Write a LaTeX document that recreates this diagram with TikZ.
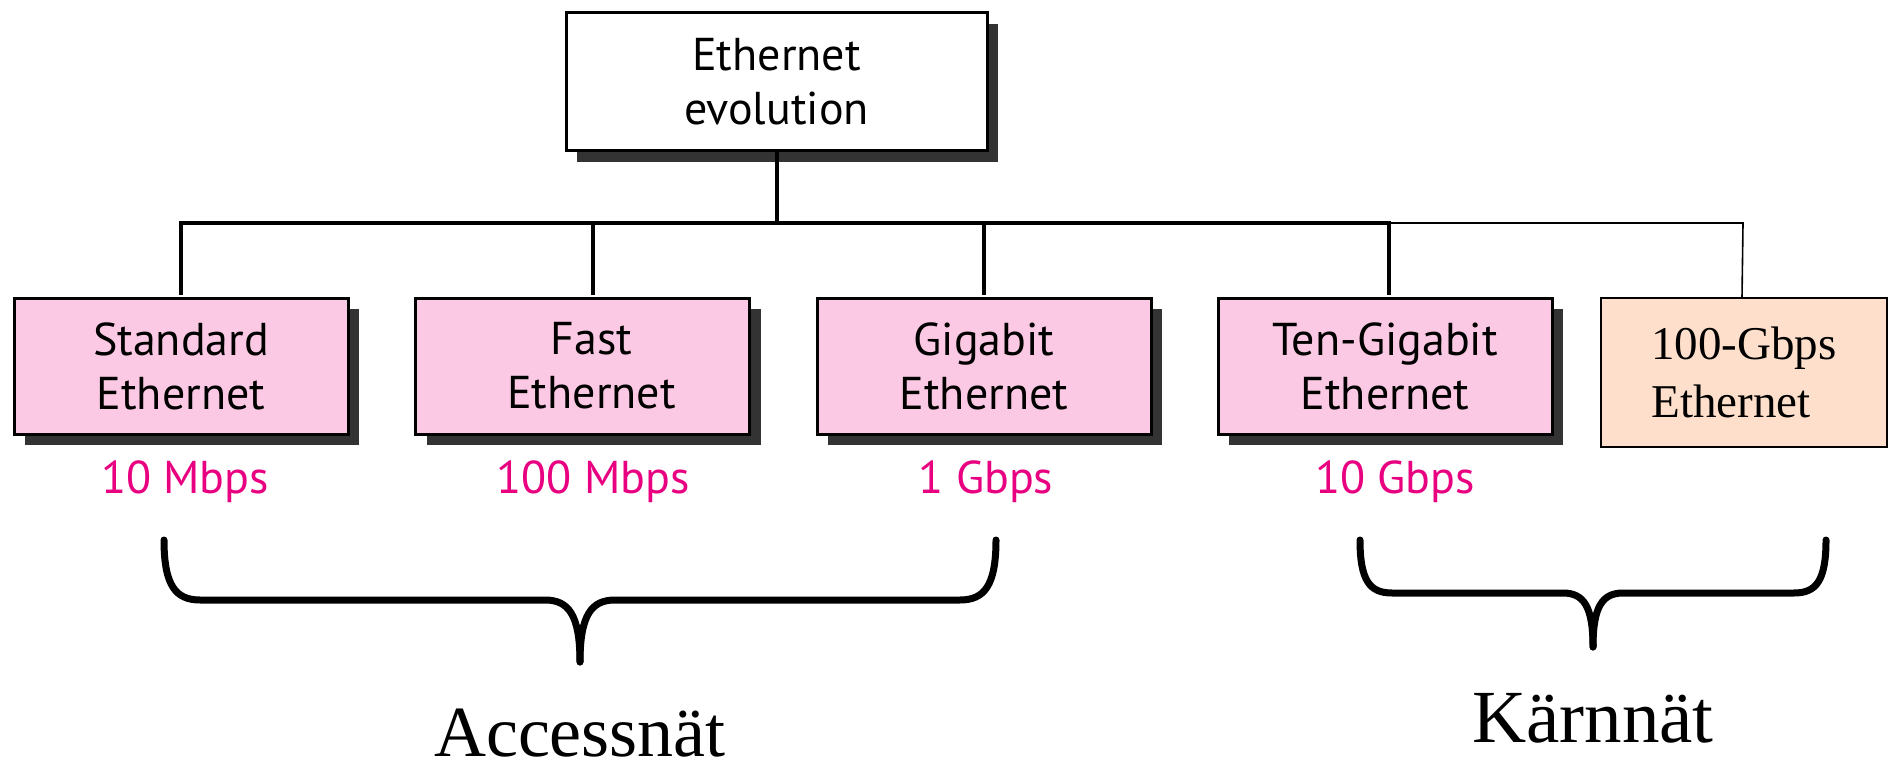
\documentclass[tikz,border=0pt]{standalone}
\usepackage{fontspec}
\newfontfamily\boxfont{PT Sans}
\newfontfamily\serfont{Liberation Serif}
\usetikzlibrary{shadows}
\definecolor{pinkfill}{RGB}{252,201,228}
\definecolor{peachfill}{RGB}{253,223,203}
\definecolor{shadowgray}{RGB}{51,51,51}
\definecolor{speedcol}{RGB}{232,0,128}
\begin{document}
\begin{tikzpicture}[x=1pt,y=-1pt,
  shadowbox/.style={draw=black, line width=3pt, inner sep=0pt, align=center,
    font=\boxfont\fontsize{46}{54}\selectfont,
    general shadow={fill=shadowgray, draw=none, shadow xshift=11pt, shadow yshift=-11pt}},
  ethbox/.style={shadowbox, fill=pinkfill, minimum width=334pt, minimum height=136pt},
  topbox/.style={shadowbox, fill=white, minimum width=421pt, minimum height=138pt},
  newbox/.style={draw=black, line width=2pt, fill=peachfill, inner sep=0pt, align=left,
    minimum width=286pt, minimum height=149pt,
    font=\serfont\fontsize{47}{58}\selectfont},
  speed/.style={text=speedcol, anchor=base, inner sep=0pt,
    font=\boxfont\fontsize{46}{54}\selectfont},
  netlabel/.style={anchor=base, inner sep=0pt, font=\serfont\fontsize{72}{80}\selectfont},
  bus/.style={line width=4pt},
  thinline/.style={line width=1.6pt},
  brace/.style={line width=7pt, line cap=round}
]
\useasboundingbox (0,0) rectangle (1895,773);

% nodes
\node[topbox] (top) at (776.5,82) {Ethernet\\evolution};
\node[ethbox] (std)  at (181,366)  {Standard\\Ethernet};
\node[ethbox] (fast) at (582.5,366) {\hspace*{18pt}Fast\\\hspace*{18pt}Ethernet};
\node[ethbox] (giga) at (984,366)  {Gigabit\\Ethernet};
\node[ethbox] (ten)  at (1385,366) {Ten-Gigabit\\Ethernet};
\node[newbox] (hund) at (1744,372.5) {100-Gbps\\Ethernet};

\node[speed] (s1) at (185,493)  {10 Mbps};
\node[speed] (s2) at (593,493)  {100 Mbps};
\node[speed] (s3) at (986,493)  {1 Gbps};
\node[speed] (s4) at (1395,493) {10 Gbps};

\node[netlabel] (acc) at (580,756) {Accessnät};
\node[netlabel, font=\serfont\fontsize{75}{80}\selectfont] (core) at (1593,742) {Kärnnät};

% connectors
\coordinate (bus) at (0,223);
\coordinate (fastin) at ([xshift=10pt]fast.north);
\coordinate (tenin) at ([xshift=4pt]ten.north);
\coordinate (hundin) at ([xshift=-2pt]hund.north);
\draw[bus] (top.south) -- (top.south |- bus);
\draw[bus] ([yshift=1.5pt]std.north) -- (std.north |- bus) -- (tenin |- bus) -- ([yshift=1.5pt]tenin);
\draw[bus] ([yshift=1.5pt]fastin) -- (fastin |- bus);
\draw[bus] ([yshift=1.5pt]giga.north) -- (giga.north |- bus);
\draw[thinline] (tenin |- bus) -- ([xshift=1pt]hundin |- bus) -- (hundin);

% braces
\draw[brace] (164,540) .. controls (164,586) and (176,600) .. (200,600)
  -- (545,600) .. controls (568,600) and (580,614) .. (580,662);
\draw[brace] (996,540) .. controls (996,586) and (984,600) .. (960,600)
  -- (615,600) .. controls (592,600) and (580,614) .. (580,662);
\draw[brace] (1360,540) .. controls (1360,581) and (1370,593) .. (1392,593)
  -- (1563,593) .. controls (1584,593) and (1593,607) .. (1593,647);
\draw[brace] (1826,540) .. controls (1826,581) and (1816,593) .. (1794,593)
  -- (1623,593) .. controls (1602,593) and (1593,607) .. (1593,647);
\end{tikzpicture}
\end{document}
